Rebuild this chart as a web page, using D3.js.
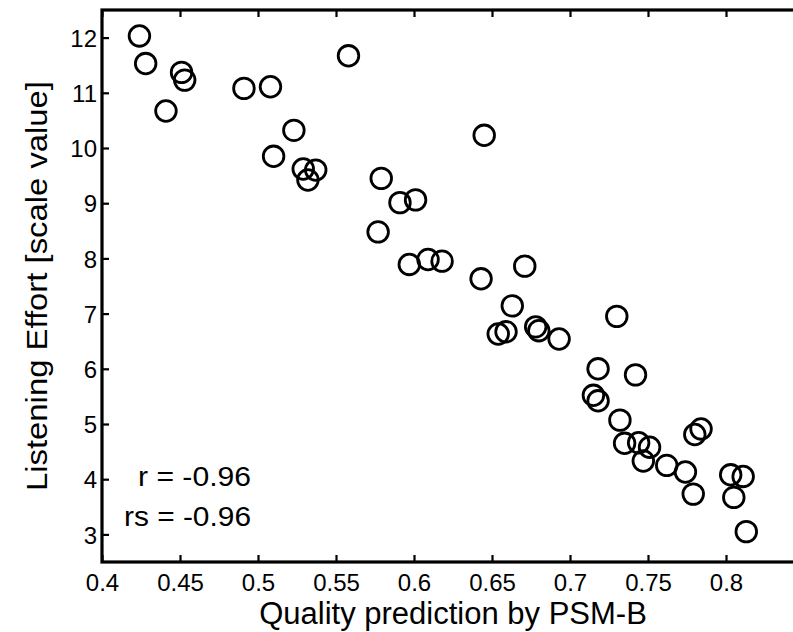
<!DOCTYPE html>
<html>
<head>
<meta charset="utf-8">
<script src="https://cdn.jsdelivr.net/npm/d3@7"></script>
<style>
  body { margin: 0; background: #fff; }
  svg { display: block; font-family: "Liberation Sans", Arial, sans-serif; }
</style>
</head>
<body>
<svg id="chart" width="793" height="632"></svg>
<script>
// values
const quality = [
  0.424, 0.428, 0.451, 0.453, 0.441, 0.491, 0.508, 0.558, 0.523, 0.510,
  0.529, 0.537, 0.532, 0.579, 0.577, 0.591, 0.601, 0.597, 0.609, 0.618,
  0.645, 0.643, 0.671, 0.663, 0.654, 0.659, 0.678, 0.680, 0.693, 0.730,
  0.718, 0.742, 0.715, 0.718, 0.732, 0.780, 0.784, 0.735, 0.744, 0.751,
  0.747, 0.762, 0.774, 0.779, 0.803, 0.811, 0.805, 0.813
];
const effort = [
  12.03, 11.53, 11.37, 11.23, 10.67, 11.08, 11.11, 11.67, 10.32, 9.85,
  9.62, 9.60, 9.42, 9.45, 8.48, 9.01, 9.06, 7.89, 7.98, 7.95,
  10.23, 7.63, 7.86, 7.14, 6.63, 6.67, 6.76, 6.69, 6.54, 6.95,
  6.00, 5.89, 5.52, 5.42, 5.07, 4.81, 4.91, 4.65, 4.66, 4.58,
  4.33, 4.25, 4.13, 3.73, 4.08, 4.05, 3.67, 3.05
];
const xTicks = [0.4, 0.45, 0.5, 0.55, 0.6, 0.65, 0.7, 0.75, 0.8];
const yTicks = [3, 4, 5, 6, 7, 8, 9, 10, 11, 12];
const stats = ['r = -0.96', 'rs = -0.96'];

const svg = d3.select('#chart');
const m = { left: 102, top: 10, right: 804, bottom: 562 };

const x = d3.scaleLinear().domain([0.4, 0.85]).range([m.left, m.right]);
const y = d3.scaleLinear().domain([2.5, 12.5]).range([m.bottom, m.top]);

// axes with inward ticks (matlab look)
const gx = svg.append('g')
  .attr('transform', `translate(0,${m.bottom})`)
  .call(d3.axisBottom(x).tickValues(xTicks).tickFormat(d => String(d)).tickSizeInner(-7).tickSizeOuter(0));
gx.selectAll('text').attr('y', 29).attr('dy', 0).style('font-size', '24px');

svg.append('g')
  .attr('transform', `translate(0,${m.top})`)
  .call(d3.axisTop(x).tickValues(xTicks).tickFormat('').tickSizeInner(-7).tickSizeOuter(0));

const gy = svg.append('g')
  .attr('transform', `translate(${m.left},0)`)
  .call(d3.axisLeft(y).tickValues(yTicks).tickSizeInner(-7).tickSizeOuter(0).tickPadding(5));
gy.selectAll('text').attr('x', -5).attr('dy', '0.36em').style('font-size', '24px');

svg.selectAll('.tick line').attr('stroke', '#000').attr('stroke-width', 2.2);
svg.selectAll('.tick text').attr('fill', '#000');
svg.selectAll('.domain').remove();

// frame
svg.append('rect')
  .attr('x', m.left).attr('y', m.top)
  .attr('width', m.right - m.left).attr('height', m.bottom - m.top)
  .attr('fill', 'none').attr('stroke', '#000').attr('stroke-width', 3.2);

// points
svg.append('g')
  .selectAll('circle')
  .data(quality.map((q, i) => ({ q: q, e: effort[i] })))
  .join('circle')
  .attr('cx', d => x(d.q))
  .attr('cy', d => y(d.e))
  .attr('r', 10.3)
  .attr('fill', 'none')
  .attr('stroke', '#000')
  .attr('stroke-width', 2.8);

// correlation text (a bit wider than plain Arial in the original)
svg.append('g')
  .selectAll('text')
  .data(stats)
  .join('text')
  .attr('x', 251)
  .attr('y', (d, i) => 486 + i * 40)
  .attr('text-anchor', 'end')
  .attr('textLength', (d, i) => i === 0 ? 113 : 127)
  .attr('lengthAdjust', 'spacingAndGlyphs')
  .style('font-size', '27px')
  .text(d => d);

// axis labels
svg.append('text')
  .attr('x', (m.left + m.right) / 2)
  .attr('y', 624)
  .attr('text-anchor', 'middle')
  .style('font-size', '31px')
  .text('Quality prediction by PSM-B');

svg.append('text')
  .attr('transform', `translate(47,${(m.top + m.bottom) / 2}) rotate(-90)`)
  .attr('text-anchor', 'middle')
  .attr('textLength', 410)
  .attr('lengthAdjust', 'spacingAndGlyphs')
  .style('font-size', '29px')
  .text('Listening Effort [scale value]');
</script>
</body>
</html>
